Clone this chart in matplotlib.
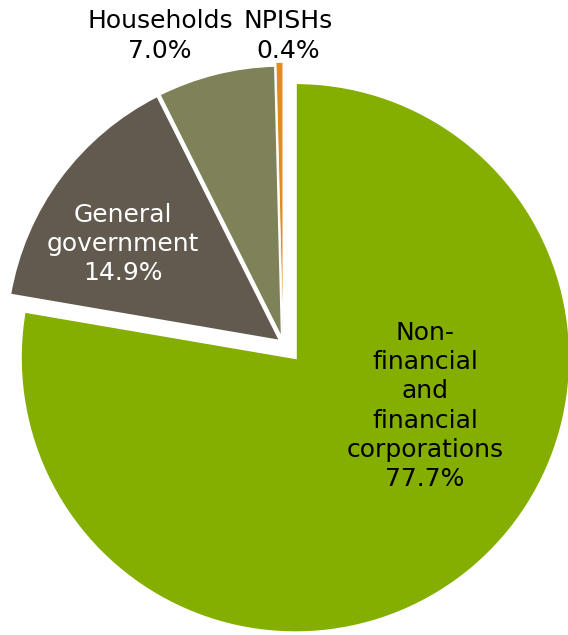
import matplotlib.pyplot as plt

# share of each institutional sector
sectors = ['Non-\nfinancial\nand\nfinancial\ncorporations', 'General\ngovernment', 'Households', 'NPISHs']
shares = [77.7, 14.9, 7.0, 0.4]
colors = ['#84ae00', '#625a4f', '#7f8159', '#e08c1e']
explode = [0.07, 0.01, 0.01, 0.02]

plt.rcParams['font.family'] = ['DejaVu Sans']

fig = plt.figure(figsize=(5.68, 6.35), dpi=100)
ax = fig.add_axes([0, 0, 1, 1])

wedges, _ = ax.pie(shares, colors=colors, explode=explode, startangle=90, counterclock=False,
                   radius=1.0, wedgeprops=dict(edgecolor='white', linewidth=2))
# thin slice would vanish under a full-width border
wedges[3].set_linewidth(0.6)

# 275 px per unit, pie centre at (283, 343) px
ax.set_xlim(-283 / 275, (568 - 283) / 275)
ax.set_ylim(-(635 - 343) / 275, 343 / 275)
ax.set_aspect('auto')
ax.axis('off')

def px(x, y):
    return (x - 283) / 275, (343 - y) / 275

label_pos = [(425, 406), (123, 244), (160, 36), (288, 36)]
label_col = ['black', 'white', 'black', 'black']
for name, val, pos, c in zip(sectors, shares, label_pos, label_col):
    x, y = px(*pos)
    ax.text(x, y, f'{name}\n{val:.1f}%', ha='center', va='center', color=c,
            fontsize=18, linespacing=1.28)

plt.savefig('out.png', dpi=100)
plt.close()
